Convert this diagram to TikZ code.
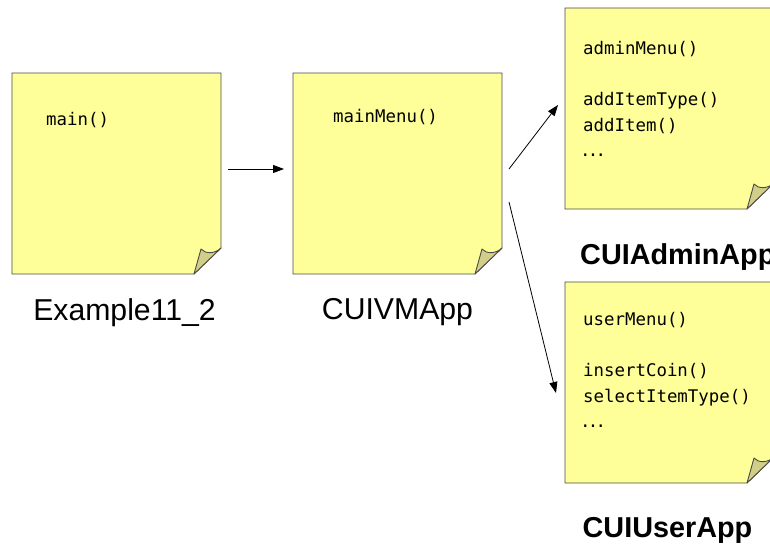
\documentclass[tikz,border=0pt]{standalone}
\usepackage{fontspec}
\setmainfont{Liberation Sans}
\setmonofont{DejaVu Sans Mono}
\usetikzlibrary{arrows.meta,calc}

\definecolor{notefill}{HTML}{FFFF99}
\definecolor{foldfill}{HTML}{D2CE8A}
\definecolor{noteline}{HTML}{4A4A4A}

% Sticky note outline with a curled bottom-right corner, drawn round a named node
\newcommand\stickynote[1]{%
  \filldraw[fill=notefill,draw=noteline,line width=0.9pt,line join=miter]
    (#1.north west) -- (#1.north east) -- ([yshift=26pt]#1.south east)
    -- ([xshift=-27pt]#1.south east) -- (#1.south west) -- cycle;
  \filldraw[fill=foldfill,draw=noteline,line width=0.9pt,line join=round]
    ([xshift=-27pt]#1.south east) -- ([xshift=-20pt,yshift=25pt]#1.south east)
    .. controls ([xshift=-16pt,yshift=20pt]#1.south east) and ([xshift=-6pt,yshift=20pt]#1.south east)
    .. ([yshift=26pt]#1.south east) -- cycle;
}
% wide ellipsis for the method lists
\newcommand\moredots{\hspace*{-3pt}\hbox to 26pt{.\hss.\hss.}}

\tikzset{
  notebox/.style={minimum width=209pt,minimum height=201pt,inner sep=0pt,outer sep=0pt,draw=none},
  code/.style={font=\ttfamily\fontsize{17.4}{25.7}\selectfont,inner sep=0pt,align=left,anchor=north west},
  lab/.style={font=\fontsize{30.2}{34}\selectfont,inner sep=0pt,anchor=base},
  labb/.style={font=\bfseries\fontsize{28.8}{34}\selectfont,inner sep=0pt,anchor=base},
  arr/.style={-{Triangle[length=11pt,width=8pt]},line width=0.8pt,black},
}

\begin{document}
\begin{tikzpicture}[x=1pt,y=-1pt]
\useasboundingbox (0,0) rectangle (770,544);
\clip (0,0) rectangle (770,544);
\fill[white] (0,0) rectangle (770,544);

% note frames
\node[notebox] (main)  at (116.5,173.5) {};
\node[notebox] (menu)  at (397.5,173.5) {};
\node[notebox] (admin) at (669.5,108.5) {};
\node[notebox] (user)  at (669.5,382.5) {};

\stickynote{main}
\stickynote{menu}
\stickynote{admin}
\stickynote{user}

% method lists
\node[code] (mainTxt)  at ([xshift=34pt,yshift=-34pt]main.north west) {\strut main()};
\node[code] (menuTxt)  at ([xshift=40pt,yshift=-31pt]menu.north west) {\strut mainMenu()};
\node[code] (adminTxt) at ([xshift=18pt,yshift=-28pt]admin.north west)
  {\strut adminMenu()\\[25.7pt] addItemType()\\ addItem()\\ \moredots};
\node[code] (userTxt)  at ([xshift=18pt,yshift=-25pt]user.north west)
  {\strut userMenu()\\[25.7pt] insertCoin()\\ selectItemType()\\ \moredots};

% class names
\node[lab] (mainLab) at ([xshift=8pt,yshift=-46pt]main.south) {Example11\_2};
\node[lab] (menuLab) at ([yshift=-45pt]menu.south) {CUIVMApp};
\node[labb,anchor=base west] (adminLab) at ([xshift=15pt,yshift=-55pt]admin.south west) {CUIAdminApp};
\node[labb] (userLab) at ([xshift=-2pt,yshift=-54pt]user.south) {CUIUserApp};

% calls
\draw[arr] ([xshift=7pt,yshift=4.5pt]main.east) -- ([xshift=-9pt,yshift=4.5pt]menu.west);
\draw[arr] ([xshift=7pt,yshift=4.5pt]menu.east) -- ([xshift=-7pt,yshift=3.5pt]admin.west);
\draw[arr] ([xshift=7pt,yshift=-28.5pt]menu.east) -- ([xshift=-9pt,yshift=-10.5pt]user.west);
\end{tikzpicture}
\end{document}
